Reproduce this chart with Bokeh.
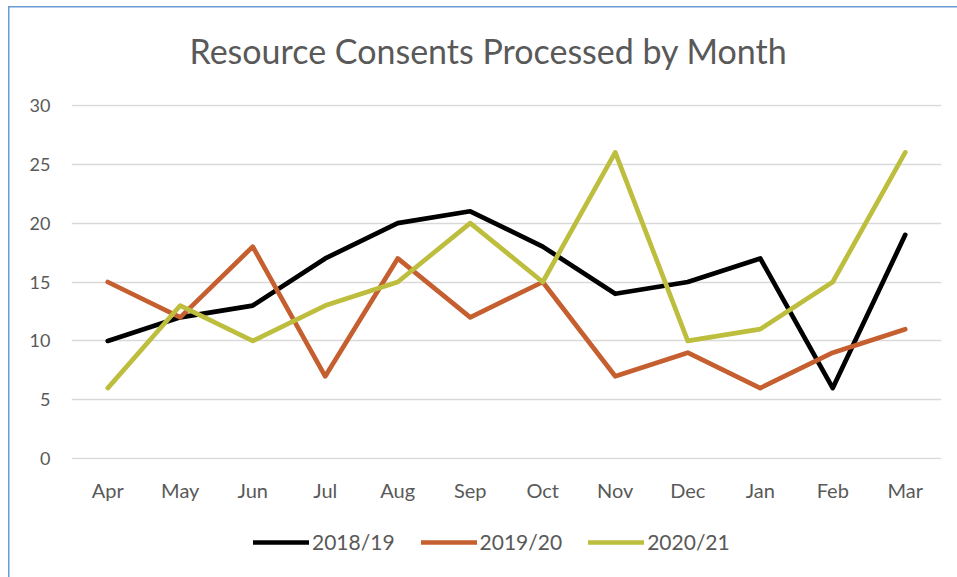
from bokeh.plotting import figure
from bokeh.layouts import column
from bokeh.models import Legend, LegendItem, Label, FixedTicker
from bokeh.embed import file_html
from bokeh.resources import INLINE

months = ["Apr", "May", "Jun", "Jul", "Aug", "Sep", "Oct", "Nov", "Dec", "Jan", "Feb", "Mar"]
s2018 = [10, 12, 13, 17, 20, 21, 18, 14, 15, 17, 6, 19]
s2019 = [15, 12, 18, 7, 17, 12, 15, 7, 9, 6, 9, 11]
s2020 = [6, 13, 10, 13, 15, 20, 15, 26, 10, 11, 15, 26]
series_names = ["2018/19", "2019/20", "2020/21"]
series = [s2018, s2019, s2020]
colors = ["#000000", "#C55F2F", "#BDBD3E"]
yticks = [0, 5, 10, 15, 20, 25, 30]
title_text = "Resource Consents Processed by Month"

FONT = "Lato"
TXT = "#595959"
EDGE = "#6A9AD8"
LINE_W = 4.7


def strip(h):
    f = figure(x_range=months, y_range=(100, 101), width=957, height=h,
               output_backend="svg", toolbar_location=None,
               x_axis_location=None, y_axis_location=None,
               min_border_left=0, min_border_right=0, min_border_top=0, min_border_bottom=0)
    f.outline_line_color = None
    f.background_fill_alpha = 0
    f.border_fill_alpha = 0
    f.grid.visible = False
    return f


# ---- title strip ----
pt = strip(80)
pt.add_layout(Label(x=417, y=30, x_units="screen", y_units="screen", text=title_text,
                    text_font=FONT, text_font_size="34px", text_color=TXT,
                    text_align="center", text_baseline="middle"))

# ---- main chart ----
p = figure(x_range=months, y_range=(-0.06, 30.06), width=957, height=440,
           output_backend="svg", toolbar_location=None,
           min_border_left=71, min_border_right=16, min_border_top=24, min_border_bottom=61)
p.outline_line_color = None
p.background_fill_color = "white"
p.border_fill_alpha = 0

p.xgrid.grid_line_color = None
p.ygrid.grid_line_color = "#D9D9D9"
p.ygrid.grid_line_width = 1.5
p.yaxis.ticker = FixedTicker(ticks=yticks)

for ax in (p.xaxis[0], p.yaxis[0]):
    ax.axis_line_color = None
    ax.major_tick_line_color = None
    ax.minor_tick_line_color = None
    ax.major_label_text_font = FONT
    ax.major_label_text_color = TXT
p.xaxis.major_label_text_font_size = "20px"
p.yaxis.major_label_text_font_size = "18px"
p.xaxis.major_label_standoff = 12
p.yaxis.major_label_standoff = 15

for vals, c in zip(series, colors):
    p.line(months, vals, line_color=c, line_width=LINE_W, line_cap="round", line_join="round")

# ---- legend strip (its lines lie outside its y-range; only the legend shows) ----
pl = strip(57)
leg_rs = [pl.line(months, vals, line_color=c, line_width=LINE_W, line_cap="round")
          for vals, c in zip(series, colors)]
legend = Legend(items=[LegendItem(label=n, renderers=[r]) for n, r in zip(series_names, leg_rs)],
                orientation="horizontal", location=(182, 23),
                glyph_width=56, glyph_height=20, label_standoff=3, spacing=26,
                padding=0, margin=0,
                label_text_font=FONT, label_text_font_size="21px", label_text_color=TXT,
                border_line_color=None, background_fill_alpha=0)
pl.add_layout(legend, "center")

layout = column(pt, p, pl, spacing=0)
layout.styles = {"background": (f"linear-gradient({EDGE},{EDGE}) 8px 6px / 100% 1.5px no-repeat, "
                                f"linear-gradient({EDGE},{EDGE}) 8px 6px / 1.5px 100% no-repeat, #ffffff")}

open("out.html", "w").write(file_html(layout, INLINE))
